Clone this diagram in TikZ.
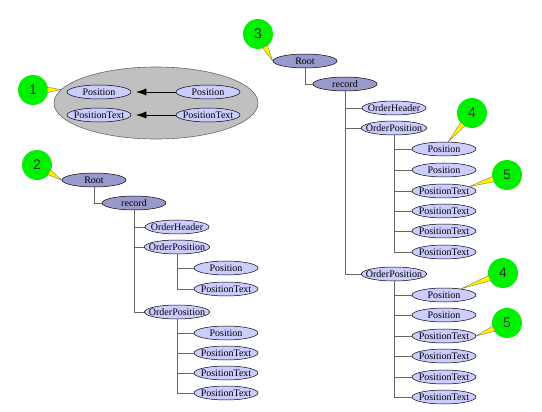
\documentclass[tikz,border=0pt]{standalone}
\usepackage{fontspec}
\setmainfont{Liberation Serif}
\newfontfamily\numfont{Liberation Sans}
\usetikzlibrary{calc,shapes.geometric,arrows.meta}

\definecolor{rootblue}{RGB}{153,153,204}
\definecolor{leafblue}{RGB}{204,204,255}
\definecolor{groupgray}{RGB}{192,192,192}
\definecolor{markgreen}{RGB}{0,240,0}

\tikzset{
  elem/.style={ellipse,draw=black,line width=0.5pt,inner xsep=-5pt,inner ysep=0pt,
    minimum width=64pt,minimum height=14pt,font=\fontsize{10}{11}\selectfont},
  darkelem/.style={elem,fill=rootblue},
  lightelem/.style={elem,fill=leafblue},
  group/.style={ellipse,fill=groupgray,draw=black!60,line width=0.6pt,minimum width=204pt,minimum height=72pt},
  badge/.style={circle,fill=markgreen,minimum size=30pt,inner sep=0pt,
    text=black!80,font=\numfont\fontsize{14}{14}\selectfont},
  callout/.style={fill=yellow,draw=black!60,line width=0.3pt},
  tie/.style={draw=black!60,line width=0.5pt},
}

\begin{document}
\begin{tikzpicture}[x=1pt,y=-1pt]
\useasboundingbox (0,0) rectangle (542,412);

%group of moved elements
\node[group](grp) at (156,103){};
\node[lightelem](posL) at (99,92){Position};
\node[lightelem](posR) at (208,92){Position};
\node[lightelem](txtL) at (99,115){PositionText};
\node[lightelem](txtR) at (208,115){PositionText};
\draw[-{Latex[length=10pt,width=7pt]},shorten >=5pt](posR.west)--(posL.east);
\draw[-{Latex[length=10pt,width=7pt]},shorten >=5pt](txtR.west)--(txtL.east);

%first tree
\node[darkelem](rootA) at (94,180){Root};
\node[darkelem](recA) at (134,203){record};
\node[lightelem](ohA) at (177,227){OrderHeader};
\node[lightelem](opA1) at (177,247){OrderPosition};
\node[lightelem](opA2) at (177,312){OrderPosition};
\draw[tie](rootA.south) |- (recA.west);
\draw[tie](recA.south) |- (ohA.west);
\draw[tie](recA.south) |- (opA1.west);
\draw[tie](recA.south) |- (opA2.west);

\foreach \i/\y/\t in {1/268/Position,2/289/PositionText}
{
	\node[lightelem](kidA\i) at (226,\y){\t};
	\draw[tie](opA1.south) |- (kidA\i.west);
}
\foreach \i/\y/\t in {3/333/Position,4/353/PositionText,5/373/PositionText,6/393/PositionText}
{
	\node[lightelem](kidA\i) at (226,\y){\t};
	\draw[tie](opA2.south) |- (kidA\i.west);
}

%second tree
\node[darkelem](rootB) at (305,61){Root};
\node[darkelem](recB) at (345,84){record};
\node[lightelem](ohB) at (394,108){OrderHeader};
\node[lightelem](opB1) at (394,128){OrderPosition};
\node[lightelem](opB2) at (394,274){OrderPosition};
\draw[tie](rootB.south) |- (recB.west);
\draw[tie](recB.south) |- (ohB.west);
\draw[tie](recB.south) |- (opB1.west);
\draw[tie](recB.south) |- (opB2.west);

\foreach \i/\y/\t in {1/149/Position,2/170/Position,3/191/PositionText,4/211/PositionText,5/231/PositionText,6/252/PositionText}
{
	\node[lightelem](kidB\i) at (444,\y){\t};
	\draw[tie](opB1.south) |- (kidB\i.west);
}
\foreach \i/\y/\t in {7/295/Position,8/315/Position,9/336/PositionText,10/356/PositionText,11/377/PositionText,12/397/PositionText}
{
	\node[lightelem](kidB\i) at (444,\y){\t};
	\draw[tie](opB2.south) |- (kidB\i.west);
}

%numbered markers
\node[badge](c1) at (33,90){1};
\node[badge](c2) at (37,165){2};
\node[badge](c3) at (258,34){3};
\node[badge](c4a) at (472,113){4};
\node[badge](c5a) at (507,175){5};
\node[badge](c4b) at (503,273){4};
\node[badge](c5b) at (507,323){5};

\foreach \a/\b in {c1/grp.172,c2/rootA.west,c3/rootB.west,c4a/kidB1.60,c5a/kidB3.10,c4b/kidB7.20,c5b/kidB9.east}
{
	\filldraw[callout]($(\a)!14.5pt!11:(\b)$)--(\b)--($(\a)!14.5pt!-11:(\b)$)--cycle;
}
\end{tikzpicture}
\end{document}
